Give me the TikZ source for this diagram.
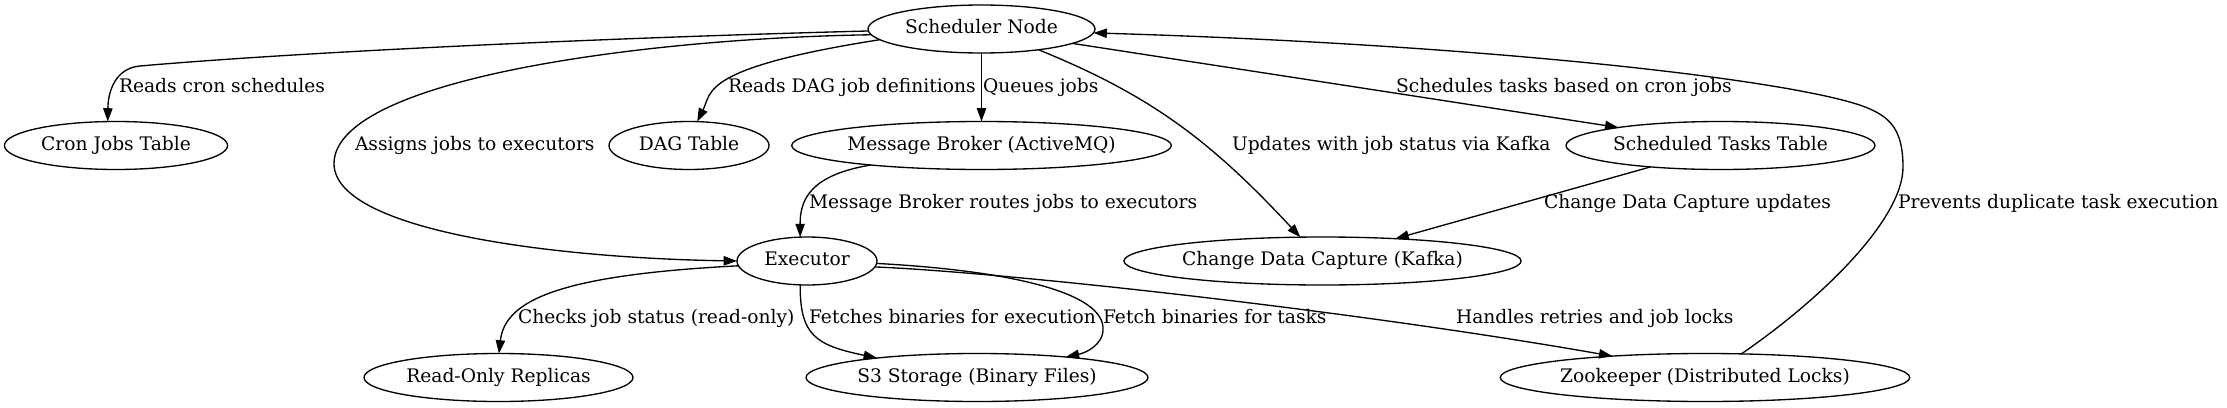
\documentclass[tikz,border=0pt]{standalone}
\usepackage{fontspec}
\setmainfont{DejaVu Serif}
\usetikzlibrary{arrows.meta,shapes.geometric}
\begin{document}
\begin{tikzpicture}[x=0.75pt,y=-0.75pt,
  every node/.style={font=\fontsize{14}{16}\selectfont},
  box/.style={draw, ellipse, line width=1pt, inner sep=0pt, outer sep=0pt,
    minimum height=36pt, text height=10.5pt, text depth=3.5pt},
  lbl/.style={anchor=west, inner sep=0pt, outer sep=0pt, text height=10.5pt, text depth=3.5pt},
  conn/.style={draw, line width=1pt, -{Triangle[length=10pt,width=7pt]}}]
\fill[white] (0,0) rectangle (2227,407);
\useasboundingbox (0,0) rectangle (2227,407);

% nodes
\node[box, minimum width=170.25pt] (sched) at (981.5,29)  {Scheduler Node};
\node[box, minimum width=167.4pt]  (cron)  at (116,145.5)  {Cron Jobs Table};
\node[box, minimum width=120pt]    (dag)   at (689,145.5)  {DAG Table};
\node[box, minimum width=282.75pt] (mb)    at (981.5,145.5) {Message Broker (ActiveMQ)};
\node[box, minimum width=231.75pt] (stt)   at (1720.5,145.5) {Scheduled Tasks Table};
\node[box, minimum width=105pt]    (exec)  at (807,261)    {Executor};
\node[box, minimum width=294.75pt] (cdc)   at (1322.5,261) {Change Data Capture (Kafka)};
\node[box, minimum width=201.75pt] (ro)    at (498.5,377.5) {Read-Only Replicas};
\node[box, minimum width=256.5pt]  (s3)    at (977,377.5)  {S3 Storage (Binary Files)};
\node[box, minimum width=303pt]    (zk)    at (1705,377.5) {Zookeeper (Distributed Locks)};

% edges
\draw[conn] (sched.181) .. controls (600,38) and (300,52) .. (140,66)
  .. controls (115,68.2) and (108,92) .. (cron.109);
\draw[conn] (sched.183) .. controls (650,38) and (336,78) .. (334,163)
  .. controls (333,230) and (550,258) .. (exec.180);
\draw[conn] (sched.186) .. controls (700,68) and (712,92) .. (dag.71);
\draw[conn] (sched) -- (mb);
\draw[conn] (sched.340) .. controls (1150,95) and (1210,140) .. (cdc.133);
\draw[conn] (sched.351) -- (stt.170.5);
\draw[conn] (mb.190) .. controls (810,175) and (800,200) .. (exec.106);
\draw[conn] (exec.184) .. controls (560,275) and (505,300) .. (ro.89);
\draw[conn] (exec.254) .. controls (800,335) and (815,345) .. (s3.169);
\draw[conn] (exec.358) .. controls (1000,270) and (1100,290) .. (1103,327)
  .. controls (1104.5,345) and (1085,353) .. (s3.13);
\draw[conn] (exec.355) .. controls (1000,272) and (1350,310) .. (zk.167.5);
\draw[conn] (stt.197) -- (cdc.17);
\draw[conn] (zk.33) .. controls (1820,300) and (1903,220) .. (1903,167)
  .. controls (1903,130) and (1890,118) .. (1870,109)
  .. controls (1810,82) and (1500,45) .. (sched.358);

% labels
\node[lbl] (l1)  at (119,88)    {Reads cron schedules};
\node[lbl] (l2)  at (728,88)    {Reads DAG job definitions};
\node[lbl] (l3)  at (983,88)    {Queues jobs};
\node[lbl] (l4)  at (1396,88)   {Schedules tasks based on cron jobs};
\node[lbl] (l5)  at (355,146)   {Assigns jobs to executors};
\node[lbl] (l6)  at (1232,146)  {Updates with job status via Kafka};
\node[lbl] (l7)  at (809,203.6) {Message Broker routes jobs to executors};
\node[lbl] (l8)  at (1544,203.6) {Change Data Capture updates};
\node[lbl] (l9)  at (1898,203.6) {Prevents duplicate task execution};
\node[lbl] (l10) at (518,319.3) {Checks job status (read-only)};
\node[lbl] (l11) at (809,319.3) {Fetches binaries for execution};
\node[lbl] (l12) at (1103,319.3) {Fetch binaries for tasks};
\node[lbl] (l13) at (1456,319.3) {Handles retries and job locks};
\end{tikzpicture}
\end{document}
